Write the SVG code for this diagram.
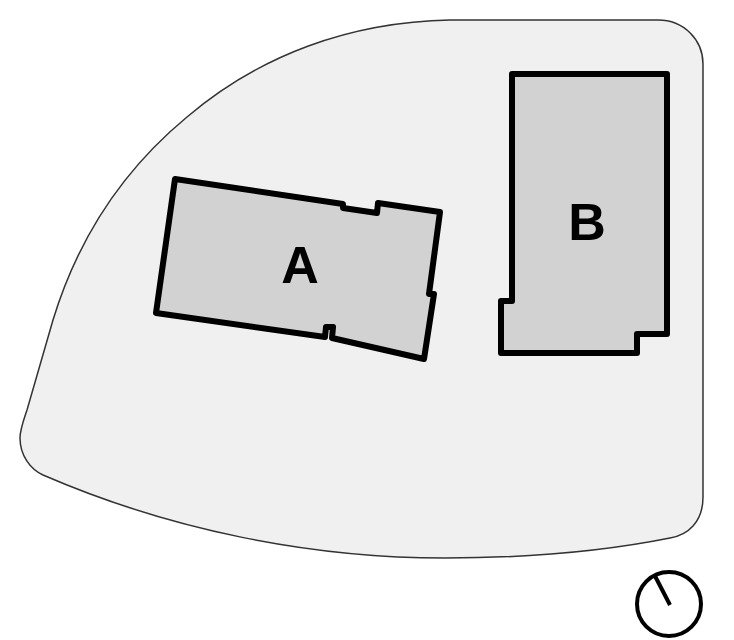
<svg xmlns="http://www.w3.org/2000/svg" width="734" height="640" viewBox="0 0 734 640">
<style>
.b{fill:#d2d2d2;stroke:#000;stroke-width:6;stroke-linejoin:round}
.l{font-family:"Liberation Sans",Arial,sans-serif;font-weight:700;font-size:52px;fill:#000;text-anchor:middle}
</style>
<rect width="734" height="640" fill="#fff"/>
<path id="site" d="M450 20H658C684 20 703 40 703 64V497C703 522 688 535 670 538C600 552 530 558 445 558C310 558 170 530 43 475C30 469 20 455 20 438C20 430 23 422 27 410L53 320C82 225 135 160 187 117C260 55 350 22 450 20Z" fill="#f0f0f0" stroke="#333" stroke-width="1.5"/>
<g id="node-a"><path class="b" d="M175 179L343 204V208L377 213L378 203L440 212L429 294H434L424 359L332 338L333 327H326L325 337L156 313Z"/><text class="l" x="300" y="283">A</text></g>
<g id="node-b"><path class="b" d="M512 74H667V334H637V353H501V301H512Z"/><text class="l" x="587" y="240">B</text></g>
<g id="compass" fill="none" stroke="#000" stroke-width="4"><circle cx="669" cy="604" r="32"/><path d="M670 605L655 576"/></g>
</svg>
